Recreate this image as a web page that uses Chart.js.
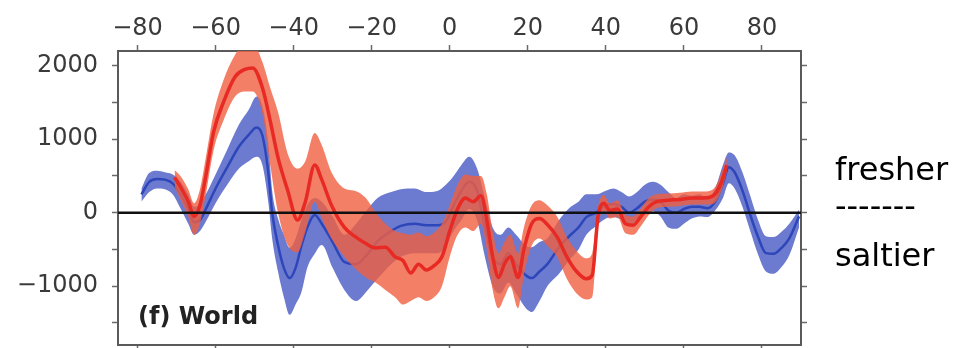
<!DOCTYPE html>
<html>
<head>
<meta charset="utf-8">
<script src="https://cdn.jsdelivr.net/npm/chart.js@4.4.1/dist/chart.umd.min.js"></script>
<style>
  html, body { margin: 0; padding: 0; background: #ffffff; }
  #wrap { width: 959px; height: 348px; }
</style>
</head>
<body>
<div id="wrap"><canvas id="c" width="959" height="348"></canvas></div>
<script>
// ---- data ----
const xTickValues = [-80, -60, -40, -20, 0, 20, 40, 60, 80];
const yTickValues = [-1500, -1000, -500, 0, 500, 1000, 1500, 2000];
const yLabelValues = [-1000, 0, 1000, 2000];

const blueLat  = [-79,-77,-75,-73,-71,-69,-67,-65.5,-64,-62.5,-60,-57,-54,-51.5,-49.5,-48,-46.5,-45.5,-44,-42.5,-41,-39.5,-38,-36.5,-34.6,-32.8,-30,-27,-24,-21,-18.5,-15,-12.5,-9,-6,-3,-1,1,3,5,7,9,11,13,15,17,19.5,21,23,25,28,31,33,35,37.5,40,42,44,46,48,50,52,54,56,58,60,62,64,66,68,70,71.5,73,75,77,79,81,83,85,87,89.5];
const blueMean = [250,420,460,450,400,250,50,-130,-100,50,330,620,900,1060,1160,1050,550,0,-440,-750,-890,-750,-450,-200,-30,-150,-400,-670,-700,-560,-390,-250,-180,-150,-170,-170,-120,100,300,420,300,-200,-600,-700,-550,-700,-850,-890,-800,-700,-470,-300,-200,-60,0,100,120,80,0,60,150,180,150,30,0,50,80,80,60,150,400,620,550,300,-30,-330,-550,-560,-480,-350,-50];
const blueLow  = [150,280,330,320,250,60,-150,-300,-250,-120,130,380,600,700,760,650,150,-350,-800,-1150,-1390,-1250,-1080,-750,-560,-440,-750,-1050,-1200,-1050,-900,-700,-600,-550,-550,-550,-450,-250,-100,50,-100,-600,-1000,-1100,-950,-1100,-1300,-1350,-1200,-1000,-830,-620,-500,-300,-180,-80,-60,-100,-180,-100,-20,20,-50,-200,-220,-150,-80,-50,-60,30,200,400,330,80,-250,-570,-800,-830,-740,-580,-200];
const blueHigh = [330,540,570,550,520,420,250,80,120,250,520,860,1200,1400,1580,1450,950,300,-80,-300,-480,-350,-100,100,200,150,-50,-300,-150,50,200,280,320,330,280,300,380,500,650,760,600,200,-200,-300,-200,-300,-450,-470,-400,-350,-100,80,150,250,250,300,330,280,220,280,380,420,380,280,200,250,230,250,200,330,650,820,780,550,230,-100,-320,-330,-260,-150,40];

const redLat  = [-70.5,-69,-67,-65.5,-64,-62.5,-60.5,-58,-55,-52.5,-50.5,-48,-46,-44,-41.5,-39,-37,-34.6,-32.8,-30.3,-27,-24.4,-21.5,-19,-16.5,-14,-12,-10,-8,-6,-4,-2,0,2,4,6,8,9.5,11,12.5,14,15.5,17.5,19,21,23,25,27.5,30,32.5,35,36.5,38,39.5,41,43,45,47,49,51,53,56,59,62,65,67.5,69.5,71];
const redMean = [480,350,150,-50,100,500,1100,1500,1850,1950,1970,1700,1250,750,300,-100,150,650,450,100,-200,-320,-420,-480,-470,-600,-650,-820,-700,-780,-720,-600,-250,50,200,150,230,-100,-600,-880,-700,-600,-880,-500,-150,-80,-160,-330,-600,-800,-900,-850,-50,130,30,50,-150,-170,-50,80,150,170,180,200,200,230,400,650];
const redLow  = [350,180,-50,-300,-150,250,850,1250,1580,1650,1650,1350,650,0,-440,-540,-265,150,-75,-350,-600,-750,-880,-950,-1050,-1150,-1250,-1200,-1150,-1200,-1150,-1000,-600,-300,-200,-250,-150,-500,-1050,-1300,-1150,-1000,-1300,-850,-450,-350,-450,-600,-900,-1100,-1180,-1150,-200,20,-80,-60,-280,-300,-180,-30,60,80,90,110,110,120,280,550];
const redHigh = [580,500,320,130,320,750,1350,1800,2150,2300,2300,2050,1700,1370,800,600,700,1085,920,550,330,300,200,0,-150,-250,-280,-300,-270,-320,-270,-150,100,380,520,500,500,250,-250,-550,-400,-300,-550,-200,100,170,100,-50,-330,-520,-620,-550,80,240,130,170,-30,-50,60,200,250,260,270,290,290,320,520,750];

// ---- helpers ----
const pts = (xs, ys) => xs.map((x, i) => ({ x: x, y: ys[i] }));
const fmt = v => (v < 0 ? '\u2212' + Math.abs(v) : String(v));
const FONT = "'DejaVu Sans', 'Liberation Sans', Arial, sans-serif";

const BLUE_BAND = 'rgba(88,104,200,0.88)';
const BLUE_LINE = 'rgba(45,70,185,1)';
const RED_BAND  = 'rgba(240,95,65,0.80)';
const RED_LINE  = 'rgba(232,42,36,1)';

const bandBase = { pointRadius: 0, borderWidth: 0, cubicInterpolationMode: 'monotone', clip: 0, xAxisID: 'x', yAxisID: 'y' };

const datasets = [
  Object.assign({}, bandBase, { label: 'blue low',  data: pts(blueLat, blueLow),  fill: false, borderColor: 'transparent', order: 6 }),
  Object.assign({}, bandBase, { label: 'blue high', data: pts(blueLat, blueHigh), fill: '-1', backgroundColor: BLUE_BAND, borderColor: 'transparent', order: 5 }),
  Object.assign({}, bandBase, { label: 'blue mean', data: pts(blueLat, blueMean), fill: false, borderColor: BLUE_LINE, borderWidth: 2.5, order: 4 }),
  Object.assign({}, bandBase, { label: 'red low',   data: pts(redLat, redLow),    fill: false, borderColor: 'transparent', order: 3 }),
  Object.assign({}, bandBase, { label: 'red high',  data: pts(redLat, redHigh),   fill: '-1', backgroundColor: RED_BAND, borderColor: 'transparent', order: 2 }),
  Object.assign({}, bandBase, { label: 'red mean',  data: pts(redLat, redMean),   fill: false, borderColor: RED_LINE, borderWidth: 3.5, order: 1 })
];

const setTicks = vals => scale => { scale.ticks = vals.map(v => ({ value: v })); };
const gridOpts = { drawOnChartArea: false, drawTicks: true, tickLength: 6, tickColor: '#6a6a6a', tickWidth: 1.5 };
const borderOpts = { display: true, color: '#5a5a5a', width: 2 };
const tickFont = { family: FONT, size: 24 };
const fixW = w => s => { s.width = w; s.paddingTop = 0; s.paddingBottom = 0; s.paddingLeft = 0; s.paddingRight = 0; };
const fixH = h => s => { s.height = h; s.paddingTop = 0; s.paddingBottom = 0; s.paddingLeft = 0; s.paddingRight = 0; };

const overlay = {
  id: 'overlay',
  afterDatasetsDraw(chart) {
    const { ctx, chartArea, scales } = chart;
    const y0 = scales.y.getPixelForValue(0);
    ctx.save();
    ctx.strokeStyle = '#111';
    ctx.lineWidth = 2.5;
    ctx.beginPath();
    ctx.moveTo(chartArea.left, y0);
    ctx.lineTo(chartArea.right, y0);
    ctx.stroke();
    ctx.restore();
  },
  afterDraw(chart) {
    const { ctx } = chart;
    ctx.save();
    ctx.textBaseline = 'alphabetic';
    ctx.textAlign = 'left';
    ctx.fillStyle = '#222';
    ctx.font = "bold 24px " + FONT;
    ctx.fillText('(f) World', 138, 324);
    ctx.fillStyle = '#000';
    ctx.font = "32px " + FONT;
    ctx.fillText('fresher', 835, 180);
    ctx.fillText('-------', 835, 217);
    ctx.fillText('saltier', 835, 266);
    ctx.restore();
  }
};

new Chart(document.getElementById('c'), {
  type: 'line',
  data: { datasets: datasets },
  options: {
    responsive: false,
    animation: false,
    events: [],
    layout: { padding: 0 },
    plugins: { legend: { display: false }, tooltip: { enabled: false }, title: { display: false } },
    scales: {
      x: {
        type: 'linear', position: 'top', min: -85, max: 90,
        afterBuildTicks: setTicks(xTickValues),
        ticks: { font: tickFont, color: '#3a3a3a', padding: 2, maxRotation: 0, autoSkip: false, callback: v => fmt(v) },
        grid: gridOpts, border: borderOpts,
        afterFit: fixH(51)
      },
      x2: {
        type: 'linear', position: 'bottom', min: -85, max: 90,
        afterBuildTicks: setTicks(xTickValues),
        ticks: { display: false },
        grid: gridOpts, border: borderOpts,
        afterFit: fixH(3)
      },
      y: {
        type: 'linear', position: 'left', min: -1800, max: 2200,
        afterBuildTicks: setTicks(yTickValues),
        ticks: { font: tickFont, color: '#3a3a3a', padding: 14, autoSkip: false,
                 callback: v => (yLabelValues.includes(v) ? fmt(v) : '') },
        grid: gridOpts, border: borderOpts,
        afterFit: fixW(118)
      },
      y2: {
        type: 'linear', position: 'right', min: -1800, max: 2200,
        afterBuildTicks: setTicks(yTickValues),
        ticks: { display: false },
        grid: gridOpts, border: borderOpts,
        afterFit: fixW(158)
      }
    }
  },
  plugins: [overlay]
});
</script>
</body>
</html>
